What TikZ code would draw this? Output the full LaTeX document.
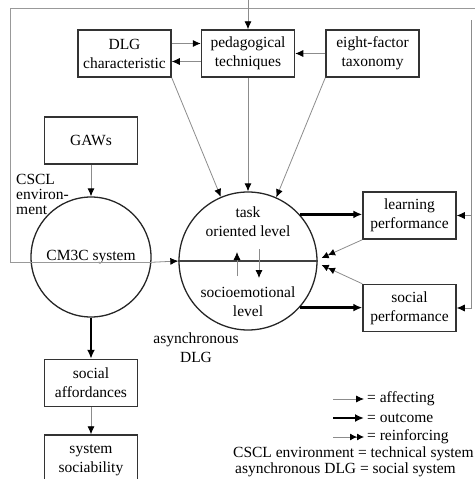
\documentclass[tikz,border=0pt]{standalone}
\usepackage{fontspec}
\setmainfont{Liberation Serif}
\newcommand{\figfont}{\fontsize{15.5}{19}\selectfont}
\usetikzlibrary{arrows.meta, positioning, calc}

\begin{document}
\begin{tikzpicture}[x=1pt,y=1pt,
  blk/.style={rectangle,draw=black!80,line width=1.5pt,minimum width=93pt,minimum height=47pt,align=center,font=\figfont,inner sep=1pt},
  lvl/.style={circle,draw=black!85,line width=1.3pt,inner sep=0pt,font=\figfont},
  lbl/.style={align=center,font=\figfont,inner sep=0pt},
  frm/.style={draw=black!40,line width=0.8pt},
  aff/.style={-{Latex[length=8pt,width=7pt,color=black]},draw=black!45,line width=0.8pt},
  outc/.style={-{Latex[length=9pt,width=8pt]},line width=2.6pt},
  reinf/.style={-{Latex[length=7pt,width=7pt,color=black]Latex[length=7pt,width=7pt,color=black]},draw=black!45,line width=0.8pt}
]
  \useasboundingbox (0,0) rectangle (475,-479);
  \clip (0,0) rectangle (475,-479);
  \node[blk](dlg) at (124.5,-53.5){DLG\\characteristic};
  \node[blk](ped) at (248,-53.5){pedagogical\\techniques};
  \node[blk](eft) at (372.5,-53.5){eight-factor\\taxonomy};
  \node[blk](gaws) at (91,-140.5){GAWs};
  \node[lvl,minimum size=120pt](cm3c) at (91,-257){CM3C system};
  \node[lvl,minimum size=138pt](task) at (248,-261){};
  \node[lbl](tol) at (248,-222){task\\oriented level};
  \node[lbl](sel) at (248,-302){socioemotional\\level};
  \node[blk](lrn) at (409.5,-215.5){learning\\performance};
  \node[blk](scp) at (409.5,-308){social\\performance};
  \node[blk](saf) at (91,-383){social\\affordances};
  \node[blk,minimum height=50pt](sys) at (91,-460){system\\sociability};
  \node[lbl,align=left,anchor=north west,font=\fontsize{15.5}{15}\selectfont](cscl) at (16,-174){CSCL\\environ-\\ment};
  \node[lbl](adlg) at (196,-348){asynchronous\\DLG};
  \coordinate (ftl) at (10,-8); \coordinate (ftr) at (475,-8);
  \coordinate (ptop) at (248,0); \coordinate (rtop) at (471,-20);
  \coordinate (hubA) at ($(task.east)+(4,3)$); \coordinate (hubB) at ($(task.east)+(4,-4)$);
  \coordinate (upS) at ($(task)+(-11,-15)$); \coordinate (upE) at ($(task)+(-11,9)$);
  \coordinate (dnS) at ($(task)+(11,12)$); \coordinate (dnE) at ($(task)+(11,-17)$);
  \draw[frm](cm3c.-5) -- (cm3c.-5 -| ftl) -- (ftl) -- (ftr);
  \draw[aff](ptop)--(ped); \draw[aff](rtop) |- (lrn); \draw[aff](rtop) |- (scp);
  \draw[aff]([yshift=10pt]dlg.east)--([yshift=10pt]ped.west);
  \draw[aff]([yshift=-8pt]ped.west)--([yshift=-8pt]dlg.east);
  \draw[aff](eft.west)--(ped.east);
  \draw[aff](dlg.south east)--(task.113); \draw[aff](ped)--(task); \draw[aff](eft.south west)--(task.66);
  \draw[aff](gaws)--(cm3c); \draw[aff](cm3c.-5)--(task.west);
  \draw[draw=black!75,line width=1.3pt](task.west)--(task.east);
  \draw[aff](upS)--(upE); \draw[aff](dnS)--(dnE);
  \draw[outc](task.42)--(task.42 -| lrn.west); \draw[outc](task.-42)--(task.-42 -| scp.west);
  \draw[reinf](lrn.south west)--(hubA); \draw[reinf](scp.north west)--(hubB);
  \draw[outc](cm3c)--(saf); \draw[aff](saf)--(sys);
  \node[lbl,anchor=west](kaf) at (367,-399){= affecting};
  \node[lbl,anchor=west](kou) at (367,-418){= outcome};
  \node[lbl,anchor=west](kre) at (367,-437){= reinforcing};
  \node[lbl,anchor=west](kcs) at (233,-454){CSCL environment = technical system};
  \node[lbl,anchor=west](kas) at (235,-470){asynchronous DLG = social system};
  \draw[aff]([xshift=-34pt]kaf.west)--([xshift=-3pt]kaf.west);
  \draw[outc]([xshift=-34pt]kou.west)--([xshift=-3pt]kou.west);
  \draw[reinf]([xshift=-34pt]kre.west)--([xshift=-3pt]kre.west);
\end{tikzpicture}
\end{document}
